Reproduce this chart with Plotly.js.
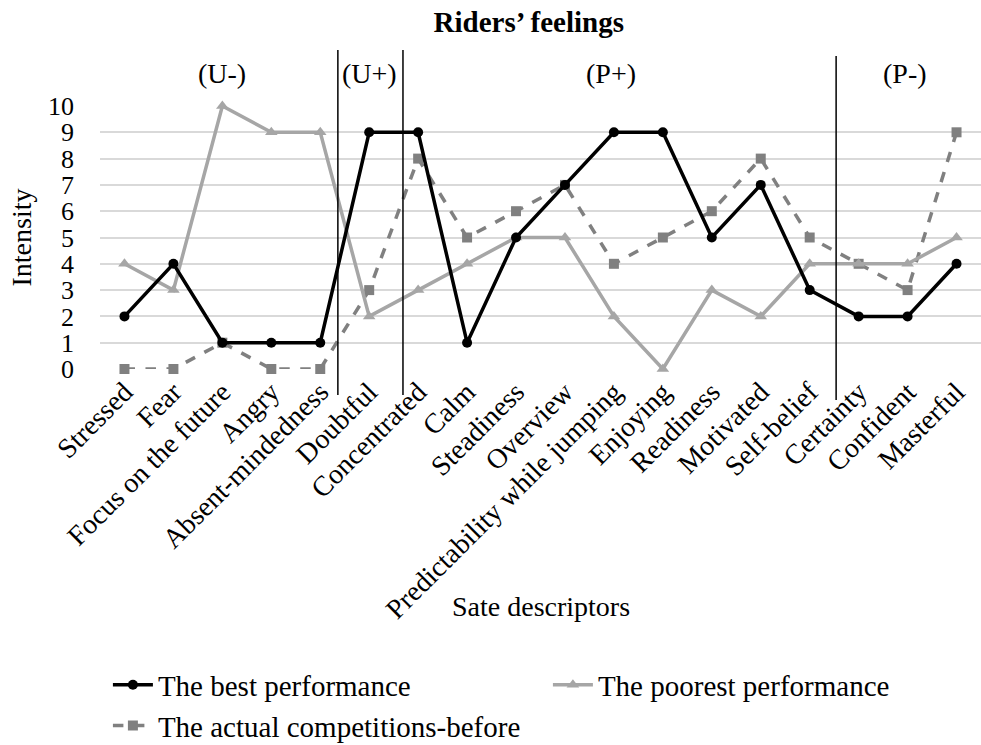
<!DOCTYPE html>
<html>
<head>
<meta charset="utf-8">
<script src="https://cdn.plot.ly/plotly-3.0.1.min.js"></script>
<style>html,body{margin:0;padding:0;background:#fff;}#chart{width:981px;height:745px;}</style>
</head>
<body>
<div id="chart"></div>
<script>
const categories = ["Stressed","Fear","Focus on the future","Angry","Absent-mindedness","Doubtful","Concentrated","Calm","Steadiness","Overview","Predictability while jumping","Enjoying","Readiness","Motivated","Self-belief","Certainty","Confident","Masterful"];
const bestPerformance = [2,4,1,1,1,9,9,1,5,7,9,9,5,7,3,2,2,4];
const poorestPerformance = [4,3,10,9,9,2,3,4,5,5,2,0,3,2,4,4,4,5];
const actualBefore = [0,0,1,0,0,3,8,5,6,7,4,5,6,8,5,4,3,9];
const seriesNames = ["The best performance","The poorest performance","The actual competitions-before"];
const groupLabels = ["(U-)","(U+)","(P+)","(P-)"];
const groupCenters = [2, 5, 9.95, 15.95];
const separators = [4.36, 5.69, 14.54];
const yTicks = [0,1,2,3,4,5,6,7,8,9,10];

const FONT = "Liberation Serif, Times New Roman, serif";
const FS = 28;

const traces = [
  {x: categories, y: actualBefore, name: seriesNames[2], type: 'scatter', mode: 'lines+markers',
   line: {color: '#808080', width: 3.5, dash: 'dash'}, marker: {symbol: 'square', size: 10, color: '#808080'}, cliponaxis: false, legendrank: 3},
  {x: categories, y: poorestPerformance, name: seriesNames[1], type: 'scatter', mode: 'lines+markers',
   line: {color: '#a6a6a6', width: 3.5}, marker: {symbol: 'triangle-up', size: 11, color: '#a6a6a6'}, cliponaxis: false, legendrank: 2},
  {x: categories, y: bestPerformance, name: seriesNames[0], type: 'scatter', mode: 'lines+markers',
   line: {color: '#000000', width: 3.5}, marker: {symbol: 'circle', size: 10, color: '#000000'}, cliponaxis: false, legendrank: 1}
];

const shapes = separators.map((s, i) => ({
  type: 'line', xref: 'x', yref: 'paper', x0: s, x1: s,
  y0: i === 2 ? -0.118 : -0.099, y1: i === 2 ? 1.19 : 1.213,
  line: {color: '#000', width: 1.5}
}));

const annotations = groupLabels.map((g, i) => ({
  text: g, xref: 'x', yref: 'paper', x: groupCenters[i], y: 1.125,
  showarrow: false, font: {family: FONT, size: FS, color: '#000'}, xanchor: 'center', yanchor: 'middle'
}));
annotations.push({
  text: 'Sate descriptors', xref: 'paper', yref: 'paper', x: 0.5, y: (369 - 606) / 263,
  showarrow: false, font: {family: FONT, size: FS, color: '#000'}, xanchor: 'center', yanchor: 'middle'
});

const layout = {
  width: 981, height: 745,
  margin: {l: 100, r: 0, t: 106, b: 376},
  paper_bgcolor: '#fff', plot_bgcolor: '#fff',
  font: {family: FONT, color: '#000'},
  title: {text: '<b>Riders’ feelings</b>', font: {family: FONT, size: 29, color: '#000'},
          x: 0.539, xanchor: 'center', y: 1 - 22/745, yanchor: 'middle', yref: 'container'},
  xaxis: {
    type: 'category', tickangle: -45, tickfont: {family: FONT, size: FS, color: '#000'},
    showgrid: false, showline: false, zeroline: false, ticks: '',
    automargin: false, range: [-0.5, 17.5], fixedrange: true
  },
  yaxis: {
    range: [0, 10], tickvals: yTicks, ticktext: yTicks.map(String),
    tickfont: {family: FONT, size: 26, color: '#000'},
    showgrid: true, gridcolor: '#d9d9d9', gridwidth: 2, zeroline: false, showline: false,
    ticks: '', ticklabelstandoff: 25,
    title: {text: 'Intensity', font: {family: FONT, size: FS, color: '#000'}, standoff: 8},
    automargin: false, fixedrange: true
  },
  showlegend: true,
  legend: {
    orientation: 'h', x: 0.11, xref: 'container', y: 0.115, yref: 'container', yanchor: 'top', xanchor: 'left',
    font: {family: FONT, size: 29, color: '#000'},
    entrywidth: 385, entrywidthmode: 'pixels', itemwidth: 40,
    tracegroupgap: 0
  },
  shapes: shapes,
  annotations: annotations
};

Plotly.newPlot('chart', traces, layout, {displayModeBar: false, staticPlot: true});
</script>
</body>
</html>
